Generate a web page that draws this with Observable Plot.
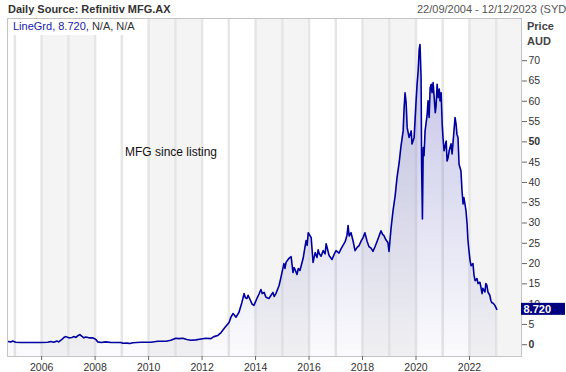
<!DOCTYPE html>
<html><head><meta charset="utf-8">
<script src="https://cdn.jsdelivr.net/npm/d3@7"></script>
<script src="https://cdn.jsdelivr.net/npm/@observablehq/plot@0.6"></script>
<style>
body{margin:0;background:#fff;}
#wrap{position:relative;width:566px;height:372px;overflow:hidden;font-family:"Liberation Sans",Arial,sans-serif;}
#chart{position:absolute;left:0;top:0;}
.t{position:absolute;white-space:nowrap;font-size:11px;line-height:1;}
</style></head><body>
<div id="wrap">
  <div id="chart"></div>
  <div class="t" style="left:8px;top:4px;font-weight:bold;color:#333">Daily Source: Refinitiv MFG.AX</div>
  <div class="t" style="left:417px;top:4px;color:#555">22/09/2004 - 12/12/2023 (SYD)</div>
  <div id="legend" class="t" style="left:8px;top:19px;width:138px;height:16px;background:#fff"></div>
  <div class="t" style="left:125px;top:146px;font-size:12px;color:#111">MFG since listing</div>
  <div class="t" style="left:527px;top:20.5px;font-weight:bold;color:#444">Price</div>
  <div class="t" style="left:527px;top:36px;font-weight:bold;color:#444">AUD</div>
</div>
<script>
// Decimal year (from 22/09/2004), price in AUD
const listingYears = [[2004.735,0.8],[2004.85,0.7],[2004.92,0.9],[2005.03,0.6],[2005.22,0.55],[2005.6,0.55],[2005.97,0.55],[2006.23,0.6],[2006.34,0.8],[2006.46,0.6],[2006.57,0.9],[2006.64,0.7],[2006.76,1.3],[2006.83,1.8],[2006.91,2.0],[2007.02,1.7],[2007.13,1.8],[2007.2,2.0],[2007.28,1.8],[2007.35,2.2],[2007.43,2.5],[2007.5,2.1],[2007.58,1.7],[2007.65,1.9],[2007.77,1.7],[2007.92,1.7],[2008.03,1.3],[2008.1,0.7],[2008.22,0.55],[2008.4,0.7],[2008.59,0.55],[2008.96,0.55],[2009.04,0.35],[2009.19,0.4],[2009.3,0.3],[2009.41,0.5],[2009.71,0.6],[2010.08,0.6],[2010.35,0.85],[2010.65,0.85],[2010.83,1.1],[2011.02,1.6],[2011.13,1.5],[2011.28,1.6],[2011.43,1.3],[2011.58,1.1],[2011.77,1.2],[2011.96,1.4],[2012.15,1.6],[2012.33,1.5],[2012.44,2.0],[2012.59,2.3],[2012.71,3.0],[2012.86,4.3]];
const growthYears = [[2013.01,5.5],[2013.08,6.8],[2013.16,7.7],[2013.27,6.8],[2013.38,8.0],[2013.49,10.4],[2013.57,12.6],[2013.62,11.6],[2013.68,11.4],[2013.72,12.2],[2013.79,11.2],[2013.87,10.0],[2013.94,9.7],[2014.05,11.4],[2014.13,12.5],[2014.2,13.6],[2014.25,12.6],[2014.32,12.9],[2014.39,11.7],[2014.5,11.4],[2014.58,12.2],[2014.65,12.9],[2014.7,11.9],[2014.76,12.6],[2014.88,14.6],[2014.95,16.6],[2015.06,20.0],[2015.1,18.8],[2015.14,20.3],[2015.25,21.3],[2015.33,21.7],[2015.4,17.8],[2015.44,19.0],[2015.48,18.5],[2015.55,17.3],[2015.6,18.8],[2015.66,18.3],[2015.78,21.3],[2015.89,25.7],[2015.93,24.5],[2015.97,27.6],[2016.08,26.4],[2016.15,20.3],[2016.23,22.7],[2016.3,21.5],[2016.34,23.4],[2016.38,22.5],[2016.45,21.8],[2016.53,23.2],[2016.6,22.4],[2016.64,24.9],[2016.75,22.0],[2016.86,21.0],[2016.94,22.3],[2017.01,23.2],[2017.12,22.6],[2017.2,23.7],[2017.28,24.6],[2017.35,25.4],[2017.42,27.0],[2017.46,29.4],[2017.5,26.8],[2017.57,27.6],[2017.65,25.5],[2017.72,23.2],[2017.8,24.0],[2017.87,24.4],[2017.95,25.6],[2018.02,26.4],[2018.09,27.6],[2018.17,25.5],[2018.24,24.2],[2018.32,23.8],[2018.39,23.0],[2018.47,24.2],[2018.54,25.4],[2018.62,26.8],[2018.69,28.1],[2018.75,27.2],[2018.8,26.9],[2018.88,25.8],[2018.95,25.2],[2018.99,23.0]];
const peakYears = [[2019.07,28.9],[2019.14,33.0],[2019.22,36.7],[2019.29,41.2],[2019.37,44.9],[2019.44,49.0],[2019.52,52.7],[2019.55,57.6],[2019.59,62.1],[2019.63,59.7],[2019.67,53.5],[2019.74,51.1],[2019.82,52.7],[2019.85,49.5],[2019.93,51.1],[2020.0,59.7],[2020.04,64.2],[2020.08,67.4],[2020.12,72.8],[2020.15,74.0],[2020.19,65.8],[2020.21,44.1],[2020.24,31.0],[2020.27,48.6],[2020.3,46.6],[2020.34,52.7],[2020.42,56.9],[2020.45,60.1],[2020.49,56.0],[2020.53,63.3],[2020.57,64.2],[2020.6,62.1],[2020.64,64.6],[2020.68,60.9],[2020.72,57.2],[2020.75,58.8],[2020.79,64.2],[2020.83,60.9],[2020.87,63.0],[2020.9,60.1],[2020.94,62.1],[2020.98,54.3],[2021.01,51.1],[2021.05,47.8],[2021.13,50.2],[2021.16,45.3],[2021.2,46.1],[2021.24,47.8],[2021.31,49.5],[2021.35,47.0],[2021.39,50.2],[2021.42,52.7],[2021.46,56.0],[2021.5,54.3],[2021.53,51.9],[2021.57,51.1],[2021.61,44.5],[2021.68,42.9],[2021.72,38.0],[2021.76,34.7],[2021.79,36.3],[2021.83,34.7],[2021.87,33.0],[2021.91,29.8],[2021.94,26.0],[2021.98,23.2]];
const declineYears = [[2022.02,20.8],[2022.06,19.5],[2022.13,20.0],[2022.17,17.1],[2022.21,15.8],[2022.28,16.3],[2022.32,15.1],[2022.39,15.4],[2022.43,14.1],[2022.47,12.6],[2022.5,13.9],[2022.58,13.0],[2022.61,15.1],[2022.65,14.6],[2022.69,13.0],[2022.76,12.2],[2022.8,10.9],[2022.84,10.3],[2022.88,10.3],[2022.95,9.7],[2023.02,8.72]];

const rangeStart = 2004.724, rangeEnd = 2023.945;   // 22/09/2004 - 12/12/2023
const priceRange = [-2.9, 80.4];
const gridYears = [2005,2006,2007,2008,2009,2010,2011,2012,2013,2014,2015,2016,2017,2018,2019,2020,2021,2022,2023];
const labelYears = [2006,2008,2010,2012,2014,2016,2018,2020,2022];
const shadedBandStarts = [2006,2010,2014,2018,2022];
const priceTicks = [5,10,15,20,25,30,35,40,45,55,60,65,70];
const boldPriceTicks = [0,50];

const data = [...listingYears, ...growthYears, ...peakYears, ...declineYears].map(([t, v]) => ({t, v}));
const last = data[data.length - 1];
const lastLabel = last.v.toFixed(3);
const bands = shadedBandStarts.map(s => ({x1: s, x2: Math.min(s + 2, rangeEnd)}));

const chart = Plot.plot({
  width: 566, height: 372,
  marginLeft: 7, marginRight: 45, marginTop: 18, marginBottom: 16,
  style: {fontFamily: '"Liberation Sans", Arial, sans-serif', fontSize: "10.5px", color: "#333", background: "#fff", overflow: "visible"},
  x: {type: "linear", domain: [rangeStart, rangeEnd]},
  y: {domain: priceRange},
  marks: [
    Plot.rect(bands, {x1: "x1", x2: "x2", fill: "#f4f4f4"}),
    Plot.ruleX(gridYears, {stroke: "#e6e6e6", strokeWidth: 2.5}),
    Plot.areaY(data, {x: "t", y1: priceRange[0], y2: "v", fill: "url(#mfgGrad)"}),
    Plot.line(data, {x: "t", y: "v", stroke: "#0000a0", strokeWidth: 1.6}),
    Plot.frame({stroke: "#c4c4c4"}),
    Plot.axisX({ticks: labelYears, tickFormat: d => String(d), tickSize: 4, tickPadding: 3, stroke: "#666", fill: "#333", label: null}),
    Plot.axisY({anchor: "right", ticks: priceTicks, tickSize: 5, tickPadding: 2, stroke: "#666", fill: "#333", label: null}),
    Plot.axisY({anchor: "right", ticks: boldPriceTicks, tickSize: 5, tickPadding: 2, stroke: "#666", fill: "#333", fontWeight: "bold", label: null}),
    Plot.text([last], {y: "v", text: () => lastLabel, frameAnchor: "right", textAnchor: "start", dx: 2, fill: "white", fontWeight: "bold", fontSize: 11})
  ]
});
document.getElementById("chart").append(chart);

// gradient for the area
const svg = d3.select(chart);
const grad = svg.insert("defs", ":first-child").append("linearGradient")
  .attr("id", "mfgGrad").attr("x1", 0).attr("y1", 0).attr("x2", 0).attr("y2", 1);
grad.append("stop").attr("offset", 0).attr("stop-color", "#6e6ec3").attr("stop-opacity", 0.42);
grad.append("stop").attr("offset", 1).attr("stop-color", "#6e6ec3").attr("stop-opacity", 0.03);

// navy box behind the last value label, then raise the label above it
const xs = chart.scale("x"), ys = chart.scale("y");
const xr = xs.range[1];
const yv = ys.apply(last.v);
svg.append("rect")
  .attr("x", xr).attr("y", yv - 6).attr("width", 566 - xr - 1).attr("height", 12).attr("fill", "#000080");
svg.selectAll("text").filter(function() { return this.textContent === lastLabel; })
  .each(function() { this.parentNode.parentNode.appendChild(this.parentNode); });

// legend text
document.getElementById("legend").innerHTML =
  '<span style="position:relative;left:5px;top:1.5px;color:#1a1aa8">LineGrd, ' + lastLabel + ', </span>' +
  '<span style="position:relative;left:5px;top:1.5px;color:#333">N/A, N/A</span>';
</script>
</body></html>
